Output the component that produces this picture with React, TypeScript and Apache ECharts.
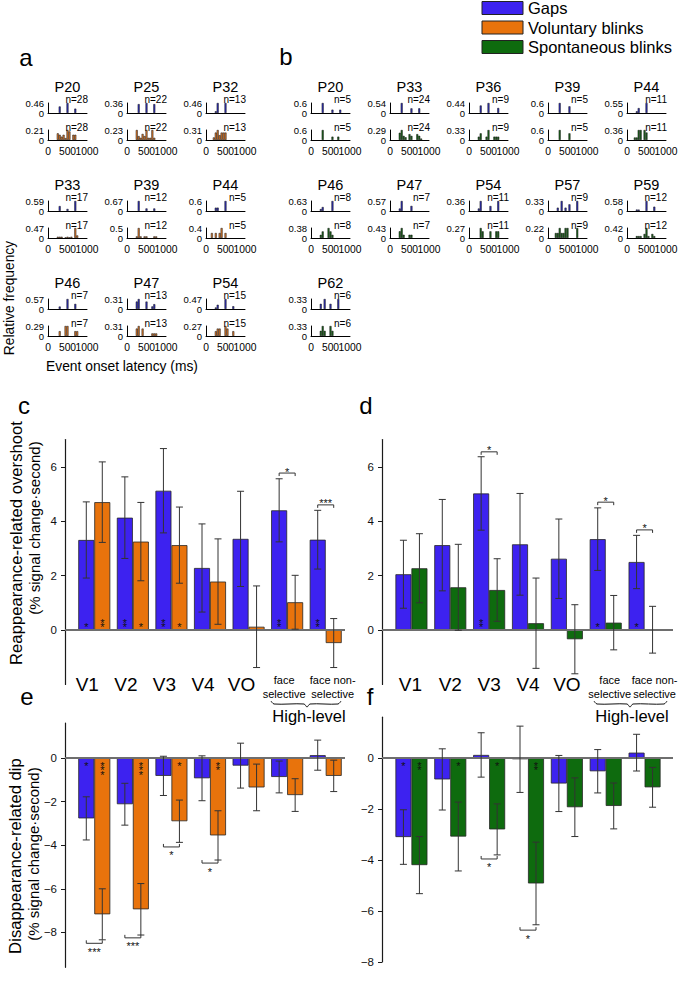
import React, { useEffect, useRef } from 'react';
import * as echarts from 'echarts';

const FONT = '"Liberation Sans", Arial, Helvetica, sans-serif';
const COLOR_GAP = '#3d22f0';
const COLOR_VOL = '#e8730c';
const COLOR_SPO = '#0e6b0e';
const MINI_GAP = '#3030b8';
const MINI_VOL = '#dc7a2c';
const MINI_SPO = '#1c641c';

const LEGEND_LABELS = ['Gaps', 'Voluntary blinks', 'Spontaneous blinks'];

// ---------- panel a (gaps vs voluntary blinks) ----------
const aIds = ['P20', 'P25', 'P32', 'P33', 'P39', 'P44', 'P46', 'P47', 'P54'];
const aN = [28, 22, 13, 17, 12, 5, 7, 13, 15];
const aGapMax = ['0.46', '0.36', '0.46', '0.59', '0.67', '0.6', '0.57', '0.31', '0.47'];
const aBlinkMax = ['0.21', '0.23', '0.31', '0.47', '0.5', '0.4', '0.29', '0.31', '0.27'];
const aGapHist = [
  [[300, 0.3], [500, 0.46], [700, 0.2]],
  [[300, 0.32], [500, 0.36], [700, 0.32]],
  [[250, 0.08], [300, 0.46], [500, 0.46]],
  [[300, 0.29], [500, 0.12], [700, 0.59]],
  [[300, 0.67], [500, 0.17], [700, 0.17]],
  [[250, 0.2], [300, 0.2], [500, 0.6]],
  [[300, 0.14], [500, 0.57], [700, 0.29]],
  [[250, 0.23], [300, 0.31], [500, 0.23], [650, 0.08], [700, 0.15]],
  [[250, 0.07], [300, 0.2], [500, 0.47], [700, 0.13]],
];
const aBlinkHist = [
  [[250, 0.14], [300, 0.11], [350, 0.07], [400, 0.11], [450, 0.04], [500, 0.21], [550, 0.18], [650, 0.11], [700, 0.11]],
  [[250, 0.23], [300, 0.09], [350, 0.05], [400, 0.14], [450, 0.09], [500, 0.23], [550, 0.05], [600, 0.05], [650, 0.23], [700, 0.05]],
  [[200, 0.08], [250, 0.23], [300, 0.31], [350, 0.15], [400, 0.23], [450, 0.23], [500, 0.23]],
  [[250, 0.06], [300, 0.06], [350, 0.06], [450, 0.03], [500, 0.06], [550, 0.03], [600, 0.06], [700, 0.47], [750, 0.12]],
  [[250, 0.08], [300, 0.5], [350, 0.08], [450, 0.08], [500, 0.08], [700, 0.08], [750, 0.08]],
  [[150, 0.2], [250, 0.2], [350, 0.2], [400, 0.4], [500, 0.2]],
  [[300, 0.14], [450, 0.29], [500, 0.29], [700, 0.14], [750, 0.14]],
  [[250, 0.23], [300, 0.31], [400, 0.23], [650, 0.08], [700, 0.08], [750, 0.08]],
  [[250, 0.13], [300, 0.2], [350, 0.2], [500, 0.27], [550, 0.2], [700, 0.13]],
];

// ---------- panel b (gaps vs spontaneous blinks) ----------
const bIds = ['P20', 'P33', 'P36', 'P39', 'P44', 'P46', 'P47', 'P54', 'P57', 'P59', 'P62'];
const bN = [5, 24, 9, 5, 11, 8, 7, 11, 9, 12, 6];
const bGapMax = ['0.6', '0.54', '0.44', '0.6', '0.55', '0.63', '0.57', '0.36', '0.33', '0.58', '0.33'];
const bBlinkMax = ['0.6', '0.29', '0.33', '0.6', '0.36', '0.38', '0.43', '0.27', '0.22', '0.42', '0.33'];
const bGapHist = [
  [[300, 0.6], [550, 0.2], [750, 0.2]],
  [[300, 0.54], [550, 0.25], [750, 0.25]],
  [[300, 0.33], [500, 0.44], [750, 0.22]],
  [[300, 0.6], [550, 0.4]],
  [[250, 0.09], [300, 0.27], [500, 0.55]],
  [[250, 0.12], [300, 0.25], [550, 0.63]],
  [[250, 0.14], [300, 0.57], [550, 0.29]],
  [[250, 0.09], [300, 0.36], [550, 0.18], [750, 0.36]],
  [[250, 0.11], [350, 0.33], [450, 0.11], [550, 0.22], [750, 0.33]],
  [[250, 0.08], [300, 0.08], [500, 0.58], [700, 0.25]],
  [[250, 0.17], [350, 0.33], [500, 0.17], [700, 0.33]],
];
const bBlinkHist = [
  [[300, 0.6], [550, 0.2], [700, 0.2]],
  [[250, 0.21], [300, 0.29], [350, 0.12], [400, 0.08], [500, 0.17], [550, 0.12], [700, 0.17], [750, 0.12], [800, 0.04]],
  [[250, 0.11], [300, 0.22], [450, 0.11], [500, 0.33], [650, 0.11], [700, 0.11], [750, 0.11]],
  [[300, 0.6], [550, 0.4]],
  [[200, 0.09], [250, 0.09], [300, 0.36], [350, 0.36], [450, 0.36], [500, 0.27]],
  [[250, 0.12], [300, 0.25], [450, 0.38], [500, 0.25], [550, 0.12]],
  [[250, 0.29], [300, 0.43], [350, 0.14], [500, 0.14], [550, 0.14]],
  [[300, 0.27], [350, 0.18], [550, 0.18], [700, 0.18], [750, 0.18]],
  [[200, 0.11], [250, 0.11], [300, 0.22], [350, 0.11], [400, 0.11], [450, 0.22], [500, 0.22], [750, 0.22]],
  [[250, 0.08], [300, 0.08], [350, 0.08], [450, 0.17], [500, 0.42], [550, 0.08], [650, 0.17], [700, 0.08]],
  [[250, 0.17], [300, 0.33], [350, 0.17], [500, 0.33], [550, 0.17]],
];
const MINI_X_TICKS = [0, 500, 1000];
const MINI_X_MAX = 1000;

// ---------- bar panels ----------
const CATEGORIES = ['V1', 'V2', 'V3', 'V4', 'VO', 'face\nselective', 'face non-\nselective'];
const GROUP_LABEL = 'High-level';
const TICKS_TOP = [0, 2, 4, 6];
const TICKS_E = [-8, -6, -4, -2, 0];
const TICKS_F = [-8, -6, -4, -2, 0];

// c: reappearance, gaps vs voluntary
const cGap = [3.31, 4.13, 5.12, 2.28, 3.35, 4.4, 3.32];
const cGapSE = [1.4, 1.5, 1.55, 1.62, 1.75, 1.16, 1.08];
const cVol = [4.7, 3.25, 3.12, 1.78, 0.12, 1.02, -0.48];
const cVolSE = [1.48, 1.44, 1.4, 1.57, 1.5, 0.99, 0.9];
const cGapStars = [1, 2, 2, 0, 0, 2, 2];
const cVolStars = [2, 1, 1, 0, 0, 0, 0];
const cBrackets = [[5, 5.77, 1], [6, 4.6, 3]];

// d: reappearance, gaps vs spontaneous
const dGap = [2.05, 3.12, 5.02, 3.15, 2.62, 3.34, 2.5];
const dGapSE = [1.25, 1.68, 1.35, 1.87, 1.46, 1.15, 0.98];
const dSpo = [2.27, 1.57, 1.47, 0.25, -0.34, 0.27, 0.01];
const dSpoSE = [1.27, 1.58, 1.15, 1.66, 1.27, 1.0, 0.86];
const dGapStars = [0, 0, 2, 0, 0, 1, 1];
const dSpoStars = [0, 0, 0, 0, 0, 0, 0];
const dBrackets = [[2, 6.55, 1], [5, 4.7, 1], [6, 3.68, 1]];

// e: disappearance, gaps vs voluntary
const eGap = [-2.77, -2.12, -0.82, -0.93, -0.35, -0.87, 0.13];
const eGapSE = [0.99, 0.96, 0.9, 1.03, 1.03, 0.73, 0.69];
const eVol = [-7.17, -6.94, -2.9, -3.55, -1.35, -1.7, -0.82];
const eVolSE = [1.17, 1.18, 0.97, 1.13, 1.07, 0.75, 0.72];
const eGapStars = [1, 0, 0, 0, 0, 0, 0];
const eVolStars = [3, 3, 1, 2, 0, 0, 0];
const eBrackets = [[0, -8.5, 3], [1, -8.25, 3], [2, -4.08, 1], [3, -4.82, 1]];

// f: disappearance, gaps vs spontaneous
const fGap = [-3.1, -0.84, 0.12, -0.05, -1.0, -0.52, 0.21];
const fGapSE = [1.07, 1.2, 0.87, 1.3, 1.1, 0.85, 0.72];
const fSpo = [-4.2, -3.08, -2.8, -4.92, -1.93, -1.88, -1.15];
const fSpoSE = [1.12, 1.35, 1.0, 1.62, 1.15, 0.9, 0.78];
const fGapStars = [1, 0, 0, 0, 0, 0, 0];
const fSpoStars = [2, 1, 1, 2, 0, 0, 0];
const fBrackets = [[2, -3.96, 1], [3, -6.75, 1]];

function buildOption() {
  const grid: any[] = [];
  const xAxis: any[] = [];
  const yAxis: any[] = [];
  const series: any[] = [];
  const graphic: any[] = [];

  const text = (x: number, y: number, t: string, size: number, extra: any = {}) => {
    graphic.push({
      type: 'text',
      x,
      y,
      rotation: extra.rotation || 0,
      silent: true,
      z: 10,
      style: {
        text: t,
        fontSize: size,
        fontFamily: FONT,
        fontWeight: extra.weight || 'normal',
        fill: '#000',
        align: extra.align || 'center',
        textAlign: extra.align || 'center',
        verticalAlign: 'middle',
        textVerticalAlign: 'middle',
      },
    });
  };

  // ---------- legend ----------
  const legendColors = [COLOR_GAP, COLOR_VOL, COLOR_SPO];
  const legendY = [8, 27.5, 47];
  LEGEND_LABELS.forEach((lab, i) => {
    graphic.push({
      type: 'rect',
      shape: { x: 482, y: legendY[i] - 6.5, width: 41, height: 13 },
      style: { fill: legendColors[i], stroke: '#222', lineWidth: 1 },
      silent: true,
    });
    text(528, legendY[i], lab, 16.5, { align: 'left' });
  });

  // ---------- mini histograms ----------
  const MINI_W = 39;
  const MINI_H = 10;
  const ROW_BASE = [113, 211, 309];
  const BOT_OFF = 27;
  const A_COLS = [48, 127, 206];
  const B_COLS = [311, 390, 469, 548, 627];

  const addMini = (x0: number, base: number, maxStr: string, hist: number[][], color: string, name: string, showX: boolean) => {
    const g = grid.length;
    const mx = parseFloat(maxStr);
    grid.push({ left: x0, top: base - MINI_H, width: MINI_W, height: MINI_H, containLabel: false, outerBoundsMode: 'none' });
    xAxis.push({
      gridIndex: g,
      type: 'value',
      min: 0,
      max: MINI_X_MAX,
      interval: 500,
      axisLine: { show: true, onZero: false, lineStyle: { color: '#000', width: 1 } },
      axisTick: { show: false },
      splitLine: { show: false },
      axisLabel: { show: false },
    });
    yAxis.push({
      gridIndex: g,
      type: 'value',
      min: 0,
      max: mx,
      interval: mx,
      axisLine: { show: true, onZero: false, lineStyle: { color: '#000', width: 1 } },
      axisTick: { show: false },
      splitLine: { show: false },
      axisLabel: {
        fontSize: 9.5,
        fontFamily: FONT,
        color: '#000',
        margin: 4,
        hideOverlap: false,
        showMinLabel: true,
        showMaxLabel: true,
        formatter: (v: number) => (Math.abs(v) < 1e-9 ? '0' : maxStr),
      },
    });
    series.push({
      type: 'bar',
      name,
      xAxisIndex: g,
      yAxisIndex: g,
      data: hist,
      barWidth: 2,
      silent: true,
      itemStyle: { color, borderColor: '#141414', borderWidth: 0.5 },
    });
    if (showX) {
      // latency tick labels placed on the axis scale (0..1000 ms over the axis width)
      MINI_X_TICKS.forEach((v) => text(x0 + (v / MINI_X_MAX) * MINI_W, base + 11, String(v), 10.3));
    }
  };

  const addParticipant = (x0: number, row: number, id: string, n: number, gMax: string, bMax: string, gh: number[][], bh: number[][], blinkColor: string, blinkName: string) => {
    const base = ROW_BASE[row];
    addMini(x0, base, gMax, gh, MINI_GAP, 'Gaps', false);
    addMini(x0, base + BOT_OFF, bMax, bh, blinkColor, blinkName, true);
    text(x0 + MINI_W / 2, base - 26.5, id, 14.5);
    text(x0 + MINI_W + 1, base - 14, 'n=' + n, 10, { align: 'right' });
    text(x0 + MINI_W + 1, base + BOT_OFF - 13, 'n=' + n, 10, { align: 'right' });
  };

  aIds.forEach((id, k) => {
    addParticipant(A_COLS[k % 3], Math.floor(k / 3), id, aN[k], aGapMax[k], aBlinkMax[k], aGapHist[k], aBlinkHist[k], MINI_VOL, 'Voluntary blinks');
  });
  bIds.forEach((id, k) => {
    addParticipant(B_COLS[k % 5], Math.floor(k / 5), id, bN[k], bGapMax[k], bBlinkMax[k], bGapHist[k], bBlinkHist[k], MINI_SPO, 'Spontaneous blinks');
  });

  text(26, 57, 'a', 24);
  text(286, 56, 'b', 24);
  text(9, 298, 'Relative frequency', 13.8, { rotation: Math.PI / 2 });
  text(122, 366, 'Event onset latency (ms)', 13.8);

  // ---------- bar panels ----------
  const labelRich = (dx: number[]) => {
    const rich: any = {};
    dx.forEach((d, i) => {
      const padL = d >= 0 ? 2 * d : 0;
      const padR = d < 0 ? -2 * d : 0;
      rich['v' + i] = { fontSize: 19, lineHeight: 20, fontFamily: FONT, color: '#000', padding: [5, padR, 0, padL] };
      rich['s' + i] = { fontSize: 11, lineHeight: 14.5, fontFamily: FONT, color: '#000', padding: [0, padR, 0, padL] };
    });
    return rich;
  };

  const starStyle = { fontSize: 11, fontFamily: FONT, fill: '#111', align: 'center', textAlign: 'center' };

  const addPanel = (p: any) => {
    const g = grid.length;
    grid.push({ left: p.left, top: p.top, width: p.width, height: p.height, containLabel: false, outerBoundsMode: 'none' });
    xAxis.push({
      gridIndex: g,
      type: 'category',
      data: CATEGORIES,
      position: 'bottom',
      offset: -14,
      axisLine: { show: false, onZero: false },
      axisTick: { show: false },
      splitLine: { show: false },
      axisLabel: p.labels
        ? {
            show: true,
            interval: 0,
            margin: 2,
            hideOverlap: false,
            formatter: (v: string, i: number) =>
              v.startsWith('V') ? `{v${i}|${v}}` : v.split('\n').map((l) => `{s${i}|${l}}`).join('\n'),
            rich: labelRich(p.labelDx),
          }
        : { show: false },
    });
    const yAx: any = {
      gridIndex: g,
      type: 'value',
      min: p.min,
      max: p.max,
      offset: 10,
      axisLine: { show: true, onZero: false, lineStyle: { color: '#1a1a1a', width: 1.2 } },
      axisTick: { show: true, length: 4, customValues: p.ticks, lineStyle: { color: '#1a1a1a', width: 1 } },
      splitLine: { show: false },
      axisLabel: {
        customValues: p.ticks,
        fontSize: 11.5,
        fontFamily: FONT,
        color: '#111',
        margin: 8,
        hideOverlap: false,
        showMinLabel: true,
        showMaxLabel: true,
        formatter: (v: number) => (p.ticks.some((t: number) => Math.abs(t - v) < 1e-6) ? String(v).replace('-', '\u2212') : ''),
      },
    };
    if (p.interval) yAx.interval = p.interval;
    yAxis.push(yAx);

    const barStyle = (c: string) => ({ color: c, borderColor: '#262626', borderWidth: 0.8 });
    series.push({ type: 'bar', name: 'Gaps', xAxisIndex: g, yAxisIndex: g, data: p.a, barWidth: 16, barGap: '0%', itemStyle: barStyle(COLOR_GAP), z: 2, silent: true });
    series.push({ type: 'bar', name: p.bName, xAxisIndex: g, yAxisIndex: g, data: p.b, barWidth: 16, barGap: '0%', itemStyle: barStyle(p.bColor), z: 2, silent: true });

    // zero line
    series.push({
      type: 'custom',
      xAxisIndex: g,
      yAxisIndex: g,
      data: [[0, 0]],
      encode: { x: 0, y: 1 },
      z: 3,
      silent: true,
      renderItem: (params: any, api: any) => {
        const cs = params.coordSys;
        const y = api.coord([0, 0])[1];
        return {
          type: 'line',
          shape: { x1: cs.x - 10, y1: y, x2: cs.x + cs.width + p.zeroExt, y2: y },
          style: { stroke: '#6e6e6e', lineWidth: 2 },
        };
      },
    });

    // error bars + in-bar stars
    const errData: number[][] = [];
    p.a.forEach((m: number, i: number) => errData.push([i, m, p.aSE[i], 0, p.aStars[i]]));
    p.b.forEach((m: number, i: number) => errData.push([i, m, p.bSE[i], 1, p.bStars[i]]));
    series.push({
      type: 'custom',
      xAxisIndex: g,
      yAxisIndex: g,
      data: errData,
      encode: { x: 0, y: 1 },
      z: 4,
      silent: true,
      renderItem: (params: any, api: any) => {
        const i = api.value(0);
        const m = api.value(1);
        const se = api.value(2);
        const grp = api.value(3);
        const ns = api.value(4);
        const cx = api.coord([i, m])[0] + (grp === 0 ? -8 : 8);
        const yt = api.coord([i, m + se])[1];
        const yb = api.coord([i, m - se])[1];
        const y0 = api.coord([i, 0])[1];
        const st = { stroke: '#333', lineWidth: 1 };
        const children: any[] = [
          { type: 'line', shape: { x1: cx, y1: yt, x2: cx, y2: yb }, style: st },
          { type: 'line', shape: { x1: cx - 3.5, y1: yt, x2: cx + 3.5, y2: yt }, style: st },
          { type: 'line', shape: { x1: cx - 3.5, y1: yb, x2: cx + 3.5, y2: yb }, style: st },
        ];
        if (ns > 0) {
          const stack = new Array(ns).fill('*').join('\n');
          const positive = m >= 0;
          children.push({
            type: 'text',
            x: cx,
            y: positive ? y0 - 0.2 : y0 + 5.2,
            style: {
              ...starStyle,
              text: stack,
              lineHeight: 4.7,
              verticalAlign: positive ? 'bottom' : 'top',
              textVerticalAlign: positive ? 'bottom' : 'top',
            },
          });
        }
        return { type: 'group', children };
      },
    });

    // comparison brackets
    series.push({
      type: 'custom',
      xAxisIndex: g,
      yAxisIndex: g,
      data: p.brackets.map((b: number[]) => [b[0], b[1], b[2], p.bracketDir]),
      encode: { x: 0, y: 1 },
      z: 4,
      silent: true,
      renderItem: (params: any, api: any) => {
        const i = api.value(0);
        const yv = api.value(1);
        const ns = api.value(2);
        const up = api.value(3);
        const c = api.coord([i, yv]);
        const xl = c[0] - 8;
        const xr = c[0] + 8;
        const y = c[1];
        const t = up > 0 ? 3 : -3;
        return {
          type: 'group',
          children: [
            { type: 'polyline', shape: { points: [[xl, y + t], [xl, y], [xr, y], [xr, y + t]] }, style: { stroke: '#333', lineWidth: 1, fill: null } },
            {
              type: 'text',
              x: c[0],
              y: up > 0 ? y - 1.5 : y + 8.5,
              style: { ...starStyle, text: '*'.repeat(ns), verticalAlign: 'middle', textVerticalAlign: 'middle' },
            },
          ],
        };
      },
    });
  };

  const TOP_SCALE = 27.2;
  const ZERO_TOP = 630;
  addPanel({
    left: 75, width: 270, top: ZERO_TOP - 7 * TOP_SCALE, height: 9 * TOP_SCALE, min: -2, max: 7, interval: 2, ticks: TICKS_TOP,
    a: cGap, aSE: cGapSE, aStars: cGapStars, b: cVol, bSE: cVolSE, bStars: cVolStars, bName: 'Voluntary blinks', bColor: COLOR_VOL,
    brackets: cBrackets, bracketDir: 1, zeroExt: 0, labels: true, labelDx: [-7, -7, -7, -7, -7, -3, 7],
  });
  addPanel({
    left: 392, width: 272, top: ZERO_TOP - 7 * TOP_SCALE, height: 9 * TOP_SCALE, min: -2, max: 7, interval: 2, ticks: TICKS_TOP,
    a: dGap, aSE: dGapSE, aStars: dGapStars, b: dSpo, bSE: dSpoSE, bStars: dSpoStars, bName: 'Spontaneous blinks', bColor: COLOR_SPO,
    brackets: dBrackets, bracketDir: 1, zeroExt: 9, labels: true, labelDx: [-1, 0, 0, 0, 0, 4, 10],
  });
  const E_SCALE = 21.8;
  const ZERO_BOT = 758;
  addPanel({
    left: 75, width: 270, top: ZERO_BOT - 1.6 * E_SCALE, height: 11.2 * E_SCALE, min: -9.6, max: 1.6, ticks: TICKS_E,
    a: eGap, aSE: eGapSE, aStars: eGapStars, b: eVol, bSE: eVolSE, bStars: eVolStars, bName: 'Voluntary blinks', bColor: COLOR_VOL,
    brackets: eBrackets, bracketDir: -1, zeroExt: 0, labels: false,
  });
  const F_SCALE = 25.5;
  addPanel({
    left: 392, width: 272, top: ZERO_BOT - 1.6 * F_SCALE, height: 9.6 * F_SCALE, min: -8, max: 1.6, interval: 2, ticks: TICKS_F,
    a: fGap, aSE: fGapSE, aStars: fGapStars, b: fSpo, bSE: fSpoSE, bStars: fSpoStars, bName: 'Spontaneous blinks', bColor: COLOR_SPO,
    brackets: fBrackets, bracketDir: -1, zeroExt: 9, labels: false,
  });

  // braces + "High-level"
  const brace = (x1: number, x2: number, xm: number, y0: number) => {
    graphic.push({
      type: 'polyline',
      silent: true,
      shape: {
        points: [[x1, y0], [x1 + 3, y0 + 3], [xm - 3, y0 + 3], [xm, y0 + 6], [xm + 3, y0 + 3], [x2 - 3, y0 + 3], [x2, y0]],
        smooth: 0.3,
      },
      style: { stroke: '#111', lineWidth: 1, fill: null },
    });
  };
  brace(271, 341, 307, 701);
  text(309, 716, GROUP_LABEL, 16.5);
  brace(594, 667, 630, 701);
  text(632, 716, GROUP_LABEL, 16.5);

  // y axis titles and panel letters
  text(16, 543, 'Reappearance-related overshoot', 16.7, { rotation: Math.PI / 2 });
  text(34, 528, '(% signal change\u00b7second)', 15, { rotation: Math.PI / 2 });
  text(15, 856, 'Disappearance-related dip', 16.7, { rotation: Math.PI / 2 });
  text(33, 854, '(% signal change\u00b7second)', 15, { rotation: Math.PI / 2 });
  text(24, 405, 'c', 24);
  text(366, 405, 'd', 24);
  text(27, 696, 'e', 24);
  text(370, 696, 'f', 24);

  return {
    animation: false,
    backgroundColor: '#fff',
    textStyle: { fontFamily: FONT },
    grid,
    xAxis,
    yAxis,
    series,
    graphic,
  };
}

export default function App() {
  const ref = useRef<HTMLDivElement>(null);
  useEffect(() => {
    const chart = echarts.init(ref.current as HTMLDivElement, null, { renderer: 'svg' });
    chart.setOption(buildOption() as any);
    return () => chart.dispose();
  }, []);
  return (
    <div
      ref={ref}
      style={{ position: 'absolute', left: 0, top: 0, width: 678, height: 982, background: '#fff' }}
    />
  );
}
